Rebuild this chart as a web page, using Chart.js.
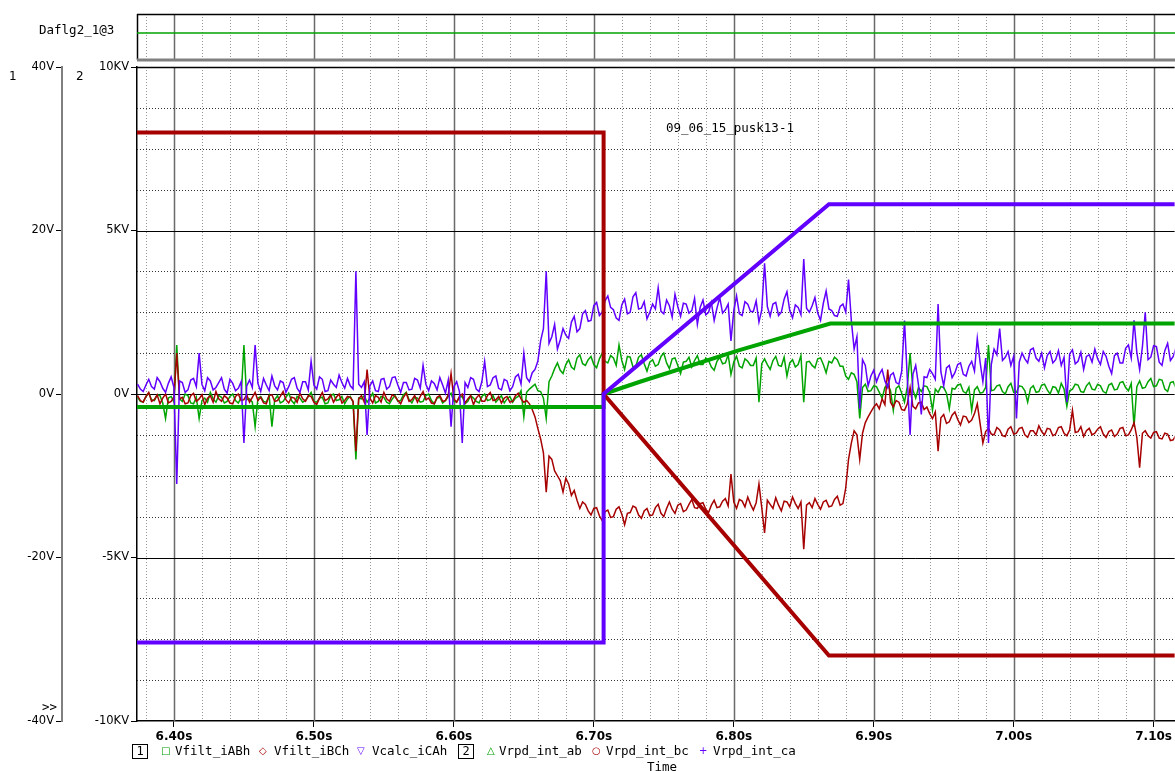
<!DOCTYPE html>
<html>
<head>
<meta charset="utf-8">
<title>Daflg2_1@3</title>
<script src="https://cdn.jsdelivr.net/npm/chart.js@4.4.1/dist/chart.umd.min.js"></script>
<style>
  body { margin: 0; background: #fff; }
  #plot { position: relative; width: 1175px; height: 771px; overflow: hidden; background: #fff; }
  #plot canvas { position: absolute; left: 0; top: 0; }
  .t { position: absolute; font: 12.5px "DejaVu Sans Mono", monospace; color: #000; white-space: nowrap; line-height: 14px; }
  .s { position: absolute; font: 12px "DejaVu Sans", sans-serif; color: #000; line-height: 14px; }
  .box { position: absolute; border: 1px solid #000; width: 14px; height: 13px; font: 12px "DejaVu Sans Mono", monospace; text-align: center; line-height: 13px; }
  .mk { position: absolute; font: 10px "DejaVu Sans", sans-serif; line-height: 14px; }
</style>
</head>
<body>
<div id="plot">
  <canvas id="main" width="1175" height="771"></canvas>
  <canvas id="flag" width="1175" height="64"></canvas>

  <div class="t" style="left:39px;top:23px">Daflg2_1@3</div>
  <div class="s" style="left:9px;top:69px">1</div>
  <div class="s" style="left:76px;top:69px">2</div>
  <div class="t" style="left:42px;top:700px">&gt;&gt;</div>
  <div class="t" style="left:666px;top:121px">09_06_15_pusk13-1</div>

  <div class="box" style="left:132px;top:744px">1</div>
  <div class="mk" style="left:161px;top:744px;color:#00a000">□</div>
  <div class="t" style="left:175px;top:744px">Vfilt_iABh</div>
  <div class="mk" style="left:259px;top:744px;color:#a60000">◇</div>
  <div class="t" style="left:274px;top:744px">Vfilt_iBCh</div>
  <div class="mk" style="left:357px;top:744px;color:#6100ff">▽</div>
  <div class="t" style="left:372px;top:744px">Vcalc_iCAh</div>
  <div class="box" style="left:458px;top:744px">2</div>
  <div class="mk" style="left:487px;top:744px;color:#00a000">△</div>
  <div class="t" style="left:499px;top:744px">Vrpd_int_ab</div>
  <div class="mk" style="left:592px;top:744px;color:#a60000">○</div>
  <div class="t" style="left:606px;top:744px">Vrpd_int_bc</div>
  <div class="mk" style="left:699px;top:744px;color:#6100ff">+</div>
  <div class="t" style="left:713px;top:744px">Vrpd_int_ca</div>
  <div class="t" style="left:647px;top:760px">Time</div>
</div>

<script>
// noisy traces (axis 1, volts), one sample every sampleStep seconds
const sampleStart = 6.374;
const sampleStep = 0.002;

const vfiltAB = [
  -0.4, -0.9, -1.0, -0.3, 0.1, -0.7, -0.8, -0.1, -0.2, -1.1, -3.0, -0.5, -0.3, -1.0, 6.0, -0.6, -0.9, 0.0, -0.2, -1.1,
  -1.2, -0.4, -3.0, -0.8, -0.5, -1.0, 0.2, -0.6, -1.0, -0.2, -0.4, -1.1, -0.9, -0.3, 0.0, -0.8, -1.1, -0.4, 6.0, -0.7,
  -0.6, -1.0, -4.0, -0.5, -0.3, -0.9, -1.0, -0.2, -4.0, -0.7, -0.2, -1.1, -0.9, -0.4, 0.1, -0.8, -1.2, -0.3, -0.5, -1.0,
  -0.8, -0.3, 0.2, -0.9, -1.0, -0.5, -0.4, -1.2, -1.1, -0.2, 0.0, -0.8, -0.7, -0.3, -1.2, -0.6, -0.3, -1.0, -8.0, -0.5,
  -0.6, -0.2, -1.0, -0.5, 0.1, -1.1, -0.9, -0.3, -0.4, -1.0, -1.2, -0.6, -0.2, -0.9, -0.8, -0.1, 0.2, -0.7, -1.1, -0.4,
  -0.5, -1.0, -0.9, -0.2, 0.0, -0.8, -1.2, -0.5, -0.4, -1.1, -0.8, -0.3, 0.1, -0.9, -1.0, -0.4, -0.3, -1.2, -0.9, -0.2,
  -0.5, -0.9, -1.1, -0.3, 0.0, -0.8, -0.7, -0.2, -1.0, -0.6, -0.2, -1.1, -0.6, -0.3, -1.0, -0.5, -0.3, 0.4, -2.8, 0.2,
  0.6, 0.9, 1.2, 0.4, 0.3, -0.5, -3.0, 1.5, 2.2, 3.1, 3.8, 2.9, 2.5, 3.6, 4.2, 3.3, 3.0, 4.4, 4.8, 3.7,
  3.5, 4.2, 4.6, 3.6, 3.2, 4.3, 5.0, 4.0, 3.8, 4.7, 4.4, 3.5, 6.0, 4.1, 3.0, 4.6, 4.5, 3.3, 3.4, 4.5,
  4.8, 3.7, 2.8, 3.9, 4.2, 3.4, 3.6, 4.6, 5.0, 3.8, 3.1, 4.3, 4.4, 3.5, 2.5, 3.9, 4.0, 4.5, 3.3, 4.1,
  4.7, 3.6, 3.6, 4.4, 4.1, 3.3, 2.9, 4.0, 4.5, 3.7, 3.8, 4.8, 2.4, 3.9, 4.6, 3.4, 3.2, 4.3, 4.0, 3.5,
  3.5, 4.4, -1.0, 3.7, 4.3, 3.6, 3.0, 4.1, 4.6, 3.5, 3.4, 4.5, 2.2, 3.8, 4.2, 3.3, 3.6, 4.7, -1.0, 3.9,
  4.0, 3.5, 3.2, 4.3, 4.4, 3.6, 2.6, 4.0, 3.8, 4.5, 4.2, 3.4, 3.4, 2.2, 1.8, 2.6, 2.4, 1.5, -3.0, 0.8,
  1.2, 0.3, 0.4, 1.0, 0.9, 0.2, -0.5, 0.8, 1.2, 0.4, -2.0, 0.7, 1.0, 0.1, -1.0, 0.9, 5.0, 0.5, -0.5, 0.8,
  0.3, 1.0, 0.9, 0.2, -2.0, 0.6, 0.2, 0.9, 0.8, 0.1, -1.8, 0.7, 0.6, 1.1, 1.2, 0.3, 0.1, 0.8, -2.0, 0.5,
  0.9, 0.1, 0.2, 0.8, 6.0, 0.4, 0.5, 1.0, 1.1, 0.3, 0.0, 0.9, 1.3, 0.2, 0.2, 1.0, 0.9, 0.4, -1.0, 0.7,
  1.0, 0.2, 0.3, 1.1, 1.2, 0.5, 0.0, 0.9, 0.8, 0.1, 1.3, 0.6, -1.5, 0.4, 0.6, 1.2, 1.1, 0.3, 0.2, 1.0,
  1.4, 0.6, 0.5, 1.2, 1.0, 0.3, 0.1, 1.1, 1.3, 0.5, 0.6, 1.4, 1.5, 0.8, 0.4, 1.3, -4.0, 0.9, 1.6, 0.7,
  0.8, 1.5, 1.9, 0.9, 1.0, 1.8, 1.7, 0.6, 0.3, 1.4, 1.5, 0.7, 1.0, 1.6
];

const vfiltBC = [
  -0.2, -0.8, -1.0, -0.3, 0.2, -0.9, -0.7, -0.1, -1.2, -0.5, 0.0, -1.1, -0.9, -0.4, 5.0, -0.6, -0.4, -1.2, -1.1, -0.2,
  0.1, -0.9, -0.6, -0.1, -1.3, -0.5, -0.2, -1.0, 0.3, -0.6, -0.9, -0.2, -0.5, -1.1, -1.2, -0.3, 0.0, -0.8, -0.7, -0.1,
  -1.0, -0.4, 0.2, -0.8, -0.4, -1.1, -1.2, -0.2, -0.1, -0.9, -0.8, -0.3, 0.3, -0.7, -1.1, -0.4, -0.5, -1.0, 0.1, -0.6,
  -0.9, -0.2, -0.3, -1.0, -1.3, -0.5, 0.2, -0.8, -0.6, -0.1, -1.0, -0.4, 0.0, -1.1, -0.8, -0.3, -0.4, -0.9, -7.0, -0.6,
  -0.2, -1.0, 3.0, -0.5, -1.1, -0.2, -0.4, -1.0, 0.2, -0.6, -0.9, -0.1, -0.3, -0.8, -1.2, -0.4, 0.1, -0.9, -0.7, -0.2,
  -1.0, -0.3, 0.3, -0.7, -0.5, -1.1, -1.2, -0.4, -0.2, -0.9, -0.8, -0.1, 2.5, -0.6, -1.0, -0.3, 0.0, -1.1, -0.6, -0.2,
  -1.3, -0.5, -0.1, -0.9, -0.9, -0.2, 0.2, -0.8, -0.7, -0.3, -1.1, -0.5, -0.3, -1.0, -0.9, -0.2, 0.1, -0.6, -1.0, -0.8,
  -1.2, -1.9, -2.8, -4.2, -5.5, -7.2, -12.0, -7.6, -8.0, -9.4, -10.0, -10.6, -12.0, -10.3, -11.0, -12.4, -11.8, -13.0, -14.0, -13.2,
  -13.5, -14.3, -14.8, -14.0, -13.9, -14.9, -15.5, -14.4, -14.2, -15.1, -15.0, -14.1, -13.8, -14.7, -16.0, -14.6, -14.5, -13.7, -13.9, -14.8,
  -15.2, -14.3, -14.0, -14.9, -14.8, -13.9, -13.5, -14.6, -15.0, -14.0, -13.2, -14.1, -14.6, -13.6, -13.4, -14.4, -14.2, -13.5, -12.9, -13.9,
  -14.0, -13.4, -13.3, -14.1, -14.5, -13.6, -13.0, -13.9, -13.8, -13.1, -12.8, -13.7, -9.8, -13.2, -14.0, -12.9, -13.1, -13.8, -12.6, -13.5,
  -14.2, -13.3, -11.0, -13.9, -17.0, -13.0, -13.5, -14.0, -12.7, -13.6, -14.3, -13.1, -13.2, -13.8, -12.6, -13.4, -14.0, -13.2, -19.0, -13.6,
  -13.3, -13.9, -12.8, -13.5, -14.1, -13.2, -13.0, -13.8, -13.7, -12.9, -12.5, -13.6, -13.4, -11.5, -8.0, -6.0, -4.5, -5.0, -8.0, -4.8,
  -3.5, -2.8, -2.2, -1.6, -1.2, -1.8, -0.6, -1.3, 3.0, -1.0, -1.6, -0.8, -1.0, -1.9, -2.0, -1.2, 0.8, -1.5, -1.8, -1.1,
  -1.0, -1.9, -1.6, -2.4, -3.0, -2.2, -7.0, -2.9, -2.5, -3.6, -3.4, -2.6, -2.2, -3.1, -3.8, -2.7, -2.8, -3.5, -3.2, -2.4,
  -1.2, -3.6, -6.0, -4.6, -4.2, -4.9, -5.0, -4.1, -4.4, -5.1, -5.2, -4.3, -4.0, -4.9, -4.8, -4.2, -4.1, -5.0, -5.3, -4.5,
  -4.5, -5.0, -3.9, -4.6, -5.0, -4.2, -4.3, -5.1, -4.9, -4.1, -4.0, -4.8, -5.1, -4.4, -2.0, -4.7, -4.6, -4.0, -5.2, -4.5,
  -4.2, -5.0, -4.8, -4.3, -4.0, -4.9, -5.3, -4.6, -4.4, -5.2, -4.9, -4.2, -4.1, -5.1, -5.0, -4.4, -3.5, -5.3, -9.0, -4.8,
  -4.5, -5.1, -5.4, -4.7, -4.6, -5.4, -5.5, -4.8, -4.9, -5.7, -5.6, -5.0, -5.2, -5.5
];

const vcalcCA = [
  1.2, 0.6, 0.3, 1.1, 1.8, 0.9, 0.6, 2.0, 1.5, 0.7, 0.2, 1.3, 2.1, 0.8, -11.0, 1.6, 1.4, 0.2, 0.5, 1.7,
  1.9, 0.9, 5.0, 1.2, 0.4, 2.0, 1.6, 0.5, 0.8, 1.4, 2.0, 0.6, 0.1, 1.8, 1.3, 0.4, 0.7, 1.5, -6.0, 1.0,
  1.7, 0.8, 6.0, 1.3, 0.3, 1.9, 1.1, 0.4, 2.2, 1.0, 0.5, 1.6, 1.4, 0.2, 0.9, 1.8, 2.0, 0.7, 0.2, 1.5,
  1.5, 0.5, 4.0, 1.1, 0.6, 2.1, 1.8, 0.3, 0.4, 1.7, 1.2, 0.8, 2.3, 1.4, 0.7, 1.9, 1.0, 0.6, 15.0, 1.2,
  0.8, 1.5, -5.0, 1.0, 1.6, 0.4, 0.3, 1.8, 1.9, 0.6, 0.9, 2.0, 2.1, 1.1, 0.2, 1.4, 1.4, 0.5, 0.6, 1.9,
  1.7, 0.7, 3.5, 1.2, 0.4, 1.6, 1.3, 0.5, 2.0, 1.1, 0.1, 1.7, -4.0, 0.9, 1.5, 0.3, -6.0, 1.4, 0.8, 2.0,
  1.8, 0.6, 0.3, 1.5, 4.0, 0.9, 1.1, 2.0, 2.2, 0.7, 0.5, 1.8, 1.6, 0.4, 0.9, 2.1, 2.4, 1.2, 5.0, 2.0,
  1.5, 2.6, 3.0, 4.0, 6.5, 8.0, 15.0, 6.2, 7.0, 8.5, 5.5, 6.6, 8.0, 7.2, 6.8, 8.8, 9.5, 7.6, 8.0, 9.8,
  10.2, 8.9, 9.0, 10.8, 11.2, 9.6, 10.0, 11.4, 12.0, 10.6, 10.3, 9.3, 9.0, 10.9, 11.6, 9.8, 10.0, 11.9, 12.4, 10.4,
  10.5, 11.3, 9.2, 10.0, 11.0, 10.4, 13.0, 10.1, 9.8, 11.5, 10.8, 9.4, 12.2, 10.7, 9.5, 11.1, 11.0, 9.9, 10.2, 11.7,
  8.5, 10.6, 11.5, 9.7, 10.0, 11.2, 9.0, 10.5, 11.8, 9.9, 10.3, 11.0, 6.5, 10.2, 12.0, 9.8, 9.6, 11.3, 11.0, 10.1,
  10.1, 11.4, 8.8, 10.3, 16.0, 10.7, 9.5, 11.0, 11.2, 9.6, 10.0, 11.6, 12.5, 10.2, 9.3, 10.9, 10.6, 9.7, 16.5, 10.5,
  10.0, 10.8, 11.8, 9.9, 9.0, 11.1, 12.6, 10.4, 10.2, 9.6, 9.5, 10.7, 11.0, 10.0, 14.0, 9.0, 5.5, 7.0, -1.8, 4.2,
  3.5, 1.0, 2.2, 2.9, 1.5, 2.4, 3.0, 1.6, 0.8, 2.3, 2.6, 1.4, 1.2, 2.8, 9.0, 1.9, -5.0, 2.4, 3.5, 1.1,
  -2.5, 2.1, 2.0, 3.0, 2.5, 1.8, 11.0, 2.7, 1.0, 3.2, 3.5, 2.0, 2.6, 3.6, 3.8, 2.4, 2.2, 3.4, 4.0, 2.8,
  6.8, 3.9, 1.5, 4.4, -6.0, 3.6, 5.5, 4.8, 8.0, 4.1, 4.5, 5.2, 3.5, 4.6, -3.0, 3.9, 5.0, 4.3, 3.8, 5.4,
  5.6, 4.4, 4.0, 5.0, 3.2, 4.7, 5.2, 3.8, 4.2, 5.3, 3.5, 4.5, -1.0, 4.9, 5.4, 3.7, 4.0, 5.1, 3.0, 4.6,
  4.8, 3.9, 5.5, 4.3, 3.6, 5.2, 4.6, 3.4, 2.5, 4.7, 5.0, 3.8, 3.8, 5.6, 6.0, 4.4, 9.0, 5.1, 3.0, 5.8,
  10.0, 4.2, 4.5, 5.9, 5.8, 3.9, 3.5, 5.3, 6.2, 4.1, 4.6, 5.7, 5.5, 4.3
];

// integrator outputs (axis 2, kV), breakpoints only
const rpdTime = [6.37, 6.707, 6.707, 6.868, 7.12];
const rpdBC = [8.0, 8.0, 0, -8.0, -8.0];
const rpdCA = [-7.6, -7.6, 0, 5.8, 5.8];
const rpdAbTime = [6.37, 6.707, 6.707, 6.733, 6.804, 6.869, 7.12];
const rpdAB = [-0.4, -0.4, 0, 0.375, 1.34, 2.155, 2.155];

// digital flag in the strip above
const flagTime = [6.37, 7.12];
const flagLevel = [1, 1];

const timeTicks = [6.4, 6.5, 6.6, 6.7, 6.8, 6.9, 7.0, 7.1];
const timeLabels = ['6.40s', '6.50s', '6.60s', '6.70s', '6.80s', '6.90s', '7.00s', '7.10s'];
const voltTicks = [-40, -20, 0, 20, 40];
const voltLabels = ['-40V', '-20V', '0V', '20V', '40V'];
const kvTicks = [-10, -5, 0, 5, 10];
const kvLabels = ['-10KV', '-5KV', '0V', '5KV', '10KV'];

const GREEN = '#00a400';
const RED = '#a60000';
const PURPLE = '#6100ff';
const T_MIN = 6.3736, T_MAX = 7.115;

const trace = vals => vals.map((v, i) => ({ x: sampleStart + i * sampleStep, y: v }));
const pairs = (ts, vals) => ts.map((t, i) => ({ x: t, y: vals[i] }));

function seg(ctx, x0, y0, x1, y1) {
    ctx.beginPath();
    ctx.moveTo(x0, y0);
    ctx.lineTo(x1, y1);
    ctx.stroke();
}

// probe-style grid: dotted minor lines, solid major ones
const scopeGrid = {
    id: 'scopeGrid',
    beforeDatasetsDraw(chart, args, opts) {
        const { ctx, chartArea: a, scales } = chart;
        const x = scales.x;
        ctx.save();
        for (let k = Math.ceil(x.min / 0.02); k * 0.02 <= x.max; k++) {
            const px = Math.round(x.getPixelForValue(k * 0.02)) + 0.5;
            const major = k % 5 === 0;
            ctx.setLineDash(major ? [] : [1, 2]);
            ctx.strokeStyle = major ? '#6a6a6a' : '#999';
            ctx.lineWidth = major ? 1.5 : 1;
            seg(ctx, px, a.top, px, a.bottom);
        }
        if (opts.rows) {
            const y = scales[opts.rows];
            for (let k = -7; k <= 7; k++) {
                const py = Math.round(y.getPixelForValue(k * 1.25)) + 0.5;
                const major = k % 4 === 0;
                ctx.setLineDash(major ? [] : [1, 2]);
                ctx.strokeStyle = major ? '#000' : '#333';
                ctx.lineWidth = 1;
                seg(ctx, a.left, py, a.right, py);
            }
        }
        ctx.setLineDash([]);
        ctx.strokeStyle = '#000';
        ctx.lineWidth = 1.5;
        seg(ctx, a.left, a.top + 0.5, a.right, a.top + 0.5);
        if (opts.frame) {
            seg(ctx, a.left + 0.5, a.top, a.left + 0.5, a.bottom);
            ctx.strokeStyle = '#808080';
            ctx.lineWidth = 3;
            seg(ctx, a.left, a.bottom, a.right, a.bottom);
        }
        ctx.restore();
    }
};

Chart.defaults.font.family = '"DejaVu Sans", sans-serif';
Chart.defaults.color = '#000';

const thin = (label, data, color) => ({
    label, data: trace(data), yAxisID: 'yv', borderColor: color,
    borderWidth: 1.5, pointRadius: 0, tension: 0, clip: 0
});
const thick = (label, data, color) => ({
    label, data, yAxisID: 'yk', borderColor: color,
    borderWidth: 4, pointRadius: 0, tension: 0, clip: 0
});

new Chart(document.getElementById('main'), {
    type: 'line',
    data: {
        datasets: [
            thick('Vrpd_int_ca', pairs(rpdTime, rpdCA), PURPLE),
            thick('Vrpd_int_bc', pairs(rpdTime, rpdBC), RED),
            thick('Vrpd_int_ab', pairs(rpdAbTime, rpdAB), GREEN),
            thin('Vcalc_iCAh', vcalcCA, PURPLE),
            thin('Vfilt_iBCh', vfiltBC, RED),
            thin('Vfilt_iABh', vfiltAB, GREEN),
        ]
    },
    options: {
        responsive: false,
        animation: false,
        events: [],
        layout: { padding: { top: 67, right: 0, bottom: 0, left: 0 } },
        plugins: {
            legend: { display: false },
            tooltip: { enabled: false },
            scopeGrid: { rows: 'yk' }
        },
        scales: {
            x: {
                type: 'linear', position: 'bottom', min: T_MIN, max: T_MAX,
                afterBuildTicks: s => { s.ticks = timeTicks.map(v => ({ value: v })); },
                afterFit: s => { s.height = 50; },
                grid: { drawOnChartArea: false, tickLength: 6, tickColor: '#000' },
                border: { color: '#000', width: 1.5 },
                ticks: {
                    padding: 3, maxRotation: 0, autoSkip: false,
                    font: { size: 12, weight: 'bold' },
                    callback: (v, i) => timeLabels[i]
                }
            },
            yk: {
                type: 'linear', position: 'left', weight: 0, min: -10, max: 10,
                afterBuildTicks: s => { s.ticks = kvTicks.map(v => ({ value: v })); },
                afterFit: s => { s.width = 75; },
                grid: { drawOnChartArea: false, tickLength: 6, tickColor: '#000' },
                border: { color: '#000', width: 1.5 },
                ticks: { padding: 2, font: { size: 11.5 }, callback: (v, i) => kvLabels[i] }
            },
            yv: {
                type: 'linear', position: 'left', weight: 1, min: -40, max: 40,
                afterBuildTicks: s => { s.ticks = voltTicks.map(v => ({ value: v })); },
                afterFit: s => { s.width = 62; },
                grid: { drawOnChartArea: false, tickLength: 6, tickColor: '#000' },
                border: { color: '#808080', width: 2 },
                ticks: { padding: 2, font: { size: 11.5 }, callback: (v, i) => voltLabels[i] }
            }
        }
    },
    plugins: [scopeGrid]
});

new Chart(document.getElementById('flag'), {
    type: 'line',
    data: {
        datasets: [{
            label: 'Daflg2_1@3', data: pairs(flagTime, flagLevel),
            borderColor: GREEN, borderWidth: 1.5, pointRadius: 0, clip: 0
        }]
    },
    options: {
        responsive: false,
        animation: false,
        events: [],
        layout: { padding: { top: 14, right: 0, bottom: 4, left: 137 } },
        plugins: {
            legend: { display: false },
            tooltip: { enabled: false },
            scopeGrid: { frame: true }
        },
        scales: {
            x: { type: 'linear', min: T_MIN, max: T_MAX, display: false },
            y: { min: 0, max: 1.7, display: false }
        }
    },
    plugins: [scopeGrid]
});
</script>
</body>
</html>
